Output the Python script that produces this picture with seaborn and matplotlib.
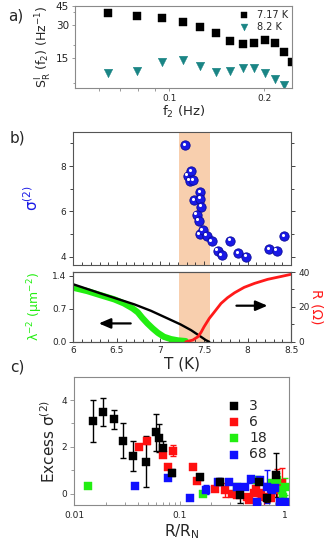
import numpy as np
import pandas as pd
import matplotlib
matplotlib.use("Agg")
import matplotlib.pyplot as plt
import matplotlib.transforms as mtransforms
from matplotlib.ticker import NullFormatter, FixedLocator, LogLocator
import seaborn as sns

# ---------------- data ----------------
# panel a
f2 = [0.064, 0.0794, 0.0949, 0.1104, 0.1254, 0.1404, 0.1556, 0.171, 0.186, 0.201, 0.217, 0.231, 0.245]
s_717 = [38.7, 36.5, 34.8, 32.1, 28.8, 25.5, 21.8, 20.1, 20.9, 22.0, 20.6, 17.2, 14.0]
f2_82 = [0.064, 0.0794, 0.0949, 0.1104, 0.1254, 0.1404, 0.1556, 0.171, 0.186, 0.201, 0.217, 0.231]
s_82 = [11.1, 11.4, 13.8, 14.4, 12.7, 11.2, 11.4, 12.2, 12.1, 11.0, 9.6, 8.5]
legend_a = ["7.17 K", "8.2 K"]

# panel b (top)
T_sig = [7.284, 7.312, 7.353, 7.338, 7.376, 7.457, 7.388, 7.457, 7.468, 7.415, 7.442, 7.450,
         7.484, 7.534, 7.588, 7.657, 7.703, 7.802, 7.894, 7.986, 8.251, 8.339, 8.423]
sigma2 = [8.92, 7.57, 7.76, 7.34, 7.37, 6.84, 6.48, 6.56, 6.21, 5.84, 5.58, 4.99,
          5.16, 4.93, 4.68, 4.26, 4.06, 4.69, 4.15, 4.00, 4.33, 4.26, 4.90]
band = [7.215, 7.57]

# panel b (bottom)
T_black = [6.0, 6.31, 6.70, 6.89, 7.08, 7.23, 7.35, 7.465, 7.52, 7.56]
lam_black = [1.219, 1.027, 0.794, 0.658, 0.497, 0.369, 0.248, 0.106, 0.036, 0.0]
T_green = [6.0, 6.16, 6.31, 6.47, 6.58, 6.68, 6.74, 6.79, 6.85, 6.91, 6.97, 7.04, 7.12, 7.20, 7.29]
lam_green = [1.147, 1.076, 0.99, 0.90, 0.815, 0.709, 0.624, 0.51, 0.39, 0.284, 0.19, 0.106, 0.057, 0.03, 0.015]
T_red = [7.29, 7.37, 7.43, 7.465, 7.50, 7.56, 7.62, 7.695, 7.77, 7.85, 7.96, 8.08, 8.23, 8.39, 8.50]
R_red = [0, 1.0, 2.9, 5.4, 8.6, 13.4, 17.2, 22.0, 25.3, 28.1, 31.2, 33.5, 35.8, 37.5, 38.7]
arrow_left = (6.69, 6.26, 0.39)
arrow_right = (7.84, 8.26, 20.7)

# panel c
c3_x = [0.0151, 0.0188, 0.024, 0.0292, 0.0364, 0.0478, 0.0598, 0.0644, 0.0693, 0.0845, 0.155, 0.244, 0.372, 0.564, 0.677, 0.831]
c3_y = [3.12, 3.5, 3.18, 2.26, 1.62, 1.36, 2.62, 2.38, 1.97, 0.9, 0.70, 0.51, -0.06, 0.5, -0.2, 0.8]
c3_e = [0.9, 0.6, 0.4, 0.75, 0.65, 1.1, 0.8, 0.6, 0.3, 0.15, 0.1, 0.15, 0.35, 0.1, 0.15, 0.95]
c6_x = [0.0415, 0.0489, 0.0703, 0.0784, 0.0863, 0.1355, 0.146, 0.218, 0.272, 0.315, 0.351, 0.438, 0.455, 0.506, 0.53, 0.586, 0.63, 0.741, 0.84, 0.942]
c6_y = [2.0, 2.26, 1.65, 1.13, 1.84, 1.13, 0.55, 0.19, 0.16, -0.03, -0.06, -0.13, -0.27, 0.02, 0.19, 0.02, -0.13, -0.2, 0.16, 0.44]
c6_e = [0, 0.15, 0.1, 0, 0.22, 0, 0.1, 0, 0.3, 0, 0, 0, 0, 0, 0, 0.15, 0.6, 0, 0.9, 0.65]
c18_x = [0.0135, 0.167, 0.351, 0.545, 0.757, 0.84, 0.942, 0.96, 1.01, 0.97]
c18_y = [0.33, -0.01, 0.3, 0.59, 0.44, 0.58, 0.16, -0.15, 0.3, -0.34]
c18_e = [0, 0, 0, 0, 0.1, 0.3, 0, 0, 0.35, 0]
c68_x = [0.0378, 0.0784, 0.126, 0.179, 0.234, 0.292, 0.351, 0.421, 0.479, 0.545, 0.586, 0.677, 0.757, 0.81, 0.9, 1.01]
c68_y = [0.33, 0.66, -0.2, 0.16, 0.51, 0.48, 0.3, 0.27, 0.62, -0.38, 0.58, 0.3, 0.16, 0.23, -0.38, -0.34]
c68_e = [0, 0, 0, 0.2, 0.1, 0, 0, 0, 0.15, 0, 0, 0.7, 0, 0.2, 0, 0]
legend_c = ["3", "6", "18", "68"]

# ---------------- style ----------------
sns.set_style("ticks")
plt.rcParams['font.family'] = ['DejaVu Sans']
plt.rcParams['xtick.labelsize'] = 6.5
plt.rcParams['ytick.labelsize'] = 6.5

fig = plt.figure(figsize=(3.32, 5.54), dpi=100)
GRAY = "#8a8a8a"
TEAL = "#1a8585"
ARROW = dict(arrowstyle='-|>,head_length=0.7,head_width=0.3', color='black', lw=1.6, mutation_scale=10)

# ---------------- panel a ----------------
axa = fig.add_axes([0.226, 0.842, 0.654, 0.147])
sns.scatterplot(x=f2, y=s_717, marker='s', color='black', s=28, edgecolor='black',
                linewidth=0.3, ax=axa, label=legend_a[0])
sns.scatterplot(x=f2_82, y=s_82, marker='v', color=TEAL, s=38, edgecolor=TEAL,
                linewidth=0.3, ax=axa, label=legend_a[1])
axa.set_xscale('log'); axa.set_yscale('log')
axa.set_xlim(0.0504, 0.245); axa.set_ylim(8.1, 45)
axa.set_xticks([0.1, 0.2]); axa.set_xticklabels(['0.1', '0.2'])
axa.xaxis.set_minor_locator(LogLocator(subs=np.arange(2, 10)))
axa.xaxis.set_minor_formatter(NullFormatter())
axa.set_yticks([15, 30, 45]); axa.set_yticklabels(['15', '30', '45'], fontsize=7.5)
axa.yaxis.set_minor_formatter(NullFormatter())
for s in axa.spines.values():
    s.set_color(GRAY); s.set_linewidth(0.8)
axa.tick_params(which='both', colors=GRAY, labelcolor='#222222', length=2.5, width=0.6, pad=2)
axa.tick_params(which='minor', length=1.8)
axa.set_xlabel('f$_2$ (Hz)', fontsize=9.5, labelpad=1)
axa.set_ylabel(r'S$^{\rm I}_{\rm R}$ (f$_2$) (Hz$^{-1}$)', fontsize=9, labelpad=1)
axa.legend(loc='upper right', frameon=False, fontsize=7, handletextpad=0.4,
           borderpad=0.2, labelspacing=0.2, markerscale=0.8, borderaxespad=0.2)

# ---------------- panel b top ----------------
axb1 = fig.add_axes([0.221, 0.522, 0.656, 0.240])
axb1.axvspan(band[0], band[1], color='#f8cfae', lw=0, zorder=0)
sns.scatterplot(x=T_sig, y=sigma2, color='#1a1ae6', s=45, edgecolor='#0a0a99',
                linewidth=0.6, ax=axb1, zorder=3)
hl = mtransforms.offset_copy(axb1.transData, fig=fig, x=-1.2, y=1.2, units='points')
axb1.scatter(T_sig, sigma2, s=5, color='white', transform=hl, zorder=4, lw=0)
axb1.set_xlim(6, 8.5); axb1.set_ylim(3.64, 9.51)
axb1.set_yticks([4, 6, 8]); axb1.yaxis.set_minor_locator(FixedLocator([5, 7, 9]))
axb1.set_xticks(np.arange(6, 8.51, 0.5)); axb1.set_xticklabels([])
axb1.xaxis.set_minor_locator(FixedLocator(np.arange(6, 8.5, 0.1)))
axb1.tick_params(axis='x', which='both', direction='in', top=False, length=3, width=0.6)
axb1.tick_params(axis='x', which='minor', length=2)
axb1.tick_params(axis='y', which='both', right=True, length=3, width=0.6, pad=2)
axb1.tick_params(axis='y', which='minor', length=2)
for s in axb1.spines.values():
    s.set_color('#555555'); s.set_linewidth(0.8)
axb1.set_ylabel('σ$^{(2)}$', color='#1a1ae6', fontsize=11, labelpad=14)

# ---------------- panel b bottom ----------------
axb2 = fig.add_axes([0.221, 0.383, 0.656, 0.126])
axb2.axvspan(band[0], band[1], color='#f8cfae', lw=0, zorder=0)
sns.lineplot(x=T_green, y=lam_green, color='#22ee11', lw=4.5, ax=axb2, zorder=2)
sns.lineplot(x=T_black, y=lam_black, color='black', lw=1.7, ax=axb2, zorder=3)
axb2.set_xlim(6, 8.5); axb2.set_ylim(0, 1.48)
axb2.set_yticks([0, 0.7, 1.4]); axb2.set_yticklabels(['0.0', '0.7', '1.4'])
axb2.set_xticks(np.arange(6, 8.51, 0.5)); axb2.set_xticklabels(['6', '6.5', '7', '7.5', '8', '8.5'])
axb2.xaxis.set_minor_locator(FixedLocator(np.arange(6, 8.5, 0.1)))
axb2.tick_params(axis='x', which='both', direction='in', length=3, width=0.6, pad=3)
axb2.tick_params(axis='x', which='minor', length=2)
axb2.tick_params(axis='y', length=3, width=0.6, pad=2)
axb2.set_xlabel('T (K)', fontsize=11, labelpad=1)
axb2.set_ylabel('λ$^{-2}$ (μm$^{-2}$)', color='#22ee11', fontsize=9, labelpad=5)
axb2.annotate('', xy=(arrow_left[1], arrow_left[2]), xytext=(arrow_left[0], arrow_left[2]),
              arrowprops=ARROW)
axr = axb2.twinx()
sns.lineplot(x=T_red, y=R_red, color='#ff1a1a', lw=2, ax=axr)
axr.set_ylim(0, 40); axr.set_yticks([0, 20, 40])
axr.yaxis.set_minor_locator(FixedLocator([10, 30]))
axr.tick_params(axis='y', which='both', length=3, width=0.6, pad=2)
axr.tick_params(axis='y', which='minor', length=2)
axr.set_ylabel('R (Ω)', color='#ff1a1a', fontsize=10, rotation=270, labelpad=10)
axr.annotate('', xy=(arrow_right[1], arrow_right[2]), xytext=(arrow_right[0], arrow_right[2]),
             arrowprops=ARROW)
for a in (axb2, axr):
    for s in a.spines.values():
        s.set_color('#555555'); s.set_linewidth(0.8)

# ---------------- panel c ----------------
axc = fig.add_axes([0.224, 0.088, 0.647, 0.232])
series = [(c6_x, c6_y, c6_e, '#ff1010', legend_c[1]),
          (c18_x, c18_y, c18_e, '#22ee11', legend_c[2]),
          (c68_x, c68_y, c68_e, '#1010ff', legend_c[3]),
          (c3_x, c3_y, c3_e, 'black', legend_c[0])]
for xs, ys, es, col, lab in series:
    axc.errorbar(xs, ys, yerr=es, fmt='none', ecolor=col, elinewidth=1.0, capsize=2, capthick=1.0, zorder=2)
    sns.scatterplot(x=xs, y=ys, marker='s', color=col, s=32, edgecolor=col, linewidth=0.3,
                    ax=axc, zorder=3, label=lab)
axc.set_xscale('log')
axc.set_xlim(0.01, 1.1); axc.set_ylim(-0.5, 5)
axc.set_xticks([0.01, 0.1, 1]); axc.set_xticklabels(['0.01', '0.1', '1'])
axc.xaxis.set_minor_formatter(NullFormatter())
axc.set_yticks([0, 2, 4]); axc.yaxis.set_minor_locator(FixedLocator([1, 3]))
axc.tick_params(which='both', length=3, width=0.6, colors=GRAY, labelcolor='#222222', pad=2)
axc.tick_params(which='minor', length=2)
axc.tick_params(axis='x', which='both', direction='in', pad=4)
for s in axc.spines.values():
    s.set_color(GRAY); s.set_linewidth(0.8)
axc.set_xlabel('R/R$_{\\rm N}$', fontsize=11, labelpad=2)
axc.set_ylabel('Excess σ$^{(2)}$', fontsize=11, labelpad=3)
h, l = axc.get_legend_handles_labels()
order = [l.index(x) for x in legend_c]
axc.legend([h[i] for i in order], [l[i] for i in order], loc='upper right', frameon=False,
           fontsize=10, handletextpad=0.6, labelspacing=0.15, borderpad=0.2, handlelength=1.0,
           borderaxespad=1.4)

# panel letters
fig.text(0.025, 0.971, 'a)', fontsize=11, va='center')
fig.text(0.03, 0.751, 'b)', fontsize=11, va='center')
fig.text(0.03, 0.338, 'c)', fontsize=11, va='center')

fig.savefig('out.png', dpi=100)
